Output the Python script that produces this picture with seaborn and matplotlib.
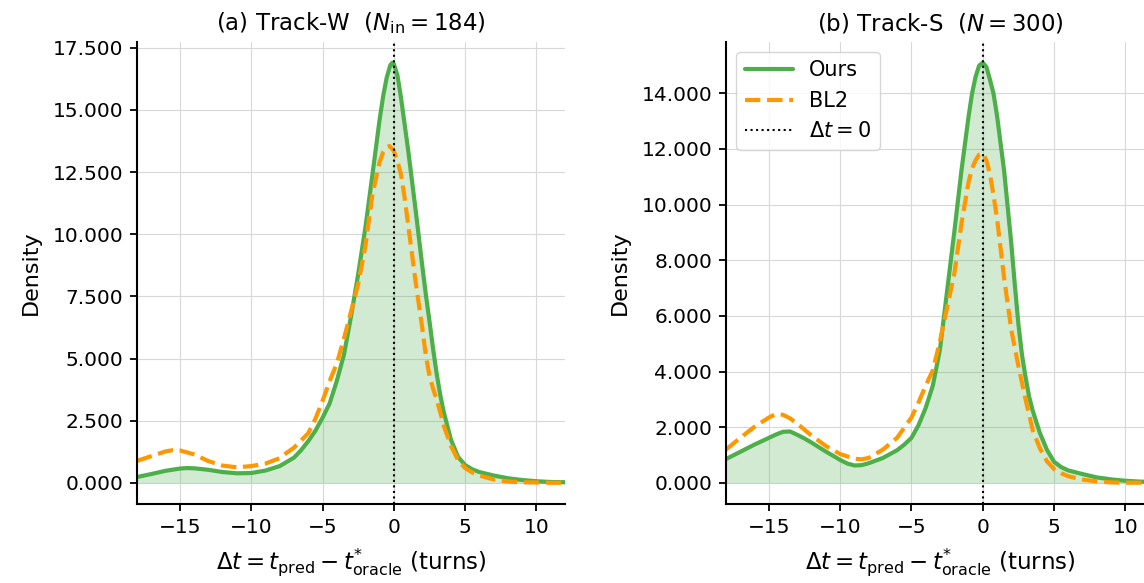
import numpy as np
import pandas as pd
import matplotlib
matplotlib.use("Agg")
import matplotlib.pyplot as plt
import seaborn as sns
from matplotlib.ticker import FormatStrFormatter, MultipleLocator

# ---- data (density values, x in turns) ----
x_w = [-18, -17, -16, -15, -14.5, -14, -13, -12, -11, -10, -9, -8, -7, -6.5, -6,
       -5.5, -5, -4.5, -4, -3.5, -3, -2.5, -2, -1.5, -1, -0.75, -0.5, -0.25, -0.1, 0,
       0.25, 0.5, 0.75, 1, 1.5, 2, 2.25, 2.5, 2.75, 3, 3.25, 3.5, 4, 4.5, 5,
       5.5, 6, 7, 8, 9, 10, 11, 12]
ours_w = [0.24, 0.36, 0.49, 0.58, 0.60, 0.59, 0.53, 0.44, 0.39, 0.40, 0.50, 0.68, 1.02, 1.32, 1.68,
          2.10, 2.62, 3.20, 4.10, 5.15, 6.70, 8.40, 10.25, 12.40, 14.60, 15.55, 16.30, 16.80, 16.90, 16.85,
          16.40, 15.50, 14.45, 13.40, 11.10, 8.70, 7.55, 6.50, 5.40, 4.40, 3.55, 2.85, 1.75, 1.05, 0.72,
          0.55, 0.44, 0.30, 0.19, 0.12, 0.07, 0.04, 0.03]

x_w2 = [-18, -17, -16, -15.5, -15, -14, -13, -12, -11, -10, -9, -8, -7.5, -7, -6,
        -5.5, -5, -4.5, -4, -3.5, -3, -2.5, -2, -1.5, -1, -0.75, -0.5, -0.3, 0, 0.25,
        0.5, 0.75, 1, 1.5, 2, 2.25, 2.5, 2.75, 3, 3.25, 3.5, 4, 4.5, 5, 5.5,
        6, 7, 8, 9, 10, 11, 12]
bl2_w = [0.89, 1.08, 1.27, 1.32, 1.31, 1.15, 0.88, 0.70, 0.63, 0.68, 0.78, 1.00, 1.22, 1.42, 2.00,
         2.58, 3.30, 4.10, 4.80, 5.80, 6.90, 8.00, 9.50, 11.60, 12.90, 13.30, 13.50, 13.55, 13.35, 12.95,
         12.40, 11.50, 10.40, 8.20, 6.20, 5.10, 4.30, 3.80, 3.35, 2.85, 2.30, 1.50, 0.92, 0.60, 0.42,
         0.30, 0.14, 0.06, 0.03, 0.02, 0.01, 0.01]

x_s = [-18, -17, -16, -15, -14.5, -14, -13.5, -13, -12.5, -12, -11, -10, -9.5, -9, -8.5,
       -8, -7, -6, -5.5, -5, -4.5, -4, -3.5, -3, -2.5, -2, -1.5, -1, -0.75, -0.5,
       -0.25, 0, 0.25, 0.5, 0.75, 1, 1.5, 2, 2.25, 2.5, 2.75, 3, 3.25, 3.5, 4,
       4.5, 5, 5.5, 6, 7, 8, 9, 10, 11, 12]
ours_s = [0.86, 1.12, 1.38, 1.62, 1.74, 1.84, 1.85, 1.73, 1.60, 1.45, 1.13, 0.83, 0.70, 0.63, 0.64,
          0.71, 0.90, 1.18, 1.38, 1.62, 2.08, 2.70, 3.50, 4.80, 6.90, 9.00, 11.20, 13.15, 14.00, 14.60,
          15.00, 15.10, 14.95, 14.50, 14.00, 13.20, 11.20, 8.60, 7.10, 5.70, 4.60, 3.80, 3.10, 2.60, 1.80,
          1.19, 0.76, 0.57, 0.45, 0.32, 0.20, 0.13, 0.08, 0.05, 0.04]

x_s2 = [-18, -17, -16, -15, -14.5, -14, -13.5, -13, -12, -11, -10, -9, -8.5, -8, -7,
        -6, -5, -4.5, -4, -3.5, -3, -2.5, -2, -1.5, -1, -0.75, -0.5, -0.25, 0, 0.25,
        0.5, 0.75, 1, 1.5, 2, 2.5, 3, 3.5, 4, 4.5, 5, 5.5, 6, 7, 8,
        9, 10, 11, 12]
bl2_s = [1.20, 1.62, 2.02, 2.35, 2.48, 2.45, 2.32, 2.13, 1.70, 1.33, 1.04, 0.87, 0.85, 0.90, 1.20,
         1.63, 2.35, 2.90, 3.50, 4.05, 5.10, 6.30, 7.50, 9.30, 10.80, 11.30, 11.60, 11.80, 11.84, 11.60,
         11.10, 10.35, 9.50, 7.35, 5.50, 4.20, 3.00, 1.90, 1.25, 0.78, 0.50, 0.35, 0.24, 0.12, 0.06,
         0.02, 0.01, 0.01, 0.00]

titles = [r"(a) Track-W  ($N_{\mathrm{in}} = 184$)", r"(b) Track-S  ($N = 300$)"]
xlabel = r"$\Delta t = t_{\mathrm{pred}} - t^{*}_{\mathrm{oracle}}$ (turns)"

GREEN = "#4daf4a"
ORANGE = "#ff9800"

sns.set_theme(style="ticks", rc={"axes.edgecolor": "black", "text.color": "black",
                                 "xtick.color": "black", "ytick.color": "black",
                                 "axes.labelcolor": "black"})
plt.rcParams["font.family"] = ["DejaVu Sans"]

fig = plt.figure(figsize=(11.44, 5.83), dpi=100)
ax_a = fig.add_axes([0.1198, 0.1355, 0.3741, 0.7930])
ax_b = fig.add_axes([0.6346, 0.1355, 0.3741, 0.7930])

panels = [(ax_a, x_w, ours_w, x_w2, bl2_w, 2.5),
          (ax_b, x_s, ours_s, x_s2, bl2_s, 2.0)]

for i, (ax, xo, yo, xb, yb, step) in enumerate(panels):
    d_ours = pd.DataFrame({"dt": xo, "density": yo})
    d_bl2 = pd.DataFrame({"dt": xb, "density": yb})
    ax.fill_between(d_ours["dt"], 0, d_ours["density"], color=GREEN, alpha=0.25, lw=0)
    sns.lineplot(data=d_ours, x="dt", y="density", ax=ax, color=GREEN, lw=3, label="Ours")
    sns.lineplot(data=d_bl2, x="dt", y="density", ax=ax, color=ORANGE, lw=3,
                 linestyle="--", label="BL2")
    ax.axvline(0, color="black", ls=":", lw=1.5, label=r"$\Delta t = 0$")
    ax.set_xlim(-18, 12)
    ax.yaxis.set_major_locator(MultipleLocator(step))
    ax.yaxis.set_major_formatter(FormatStrFormatter("%.3f"))
    ax.set_xticks([-15, -10, -5, 0, 5, 10])
    ax.grid(True, color="#d8d8d8", lw=0.8)
    ax.set_axisbelow(True)
    sns.despine(ax=ax)
    for s in ["left", "bottom"]:
        ax.spines[s].set_linewidth(1.5)
    ax.tick_params(labelsize=14.5, width=1.3, length=5, pad=5)
    ax.set_title(titles[i], fontsize=16.5, pad=8)
    ax.set_xlabel(xlabel, fontsize=16.5, labelpad=7)
    ax.set_ylabel("Density", fontsize=16, labelpad=8)
    if i == 0:
        ax.get_legend().remove()
    else:
        ax.legend(loc="upper left", fontsize=15, frameon=True, edgecolor="#cccccc",
                  handlelength=2.3, borderaxespad=0.5)

fig.savefig("out.png", dpi=100)
